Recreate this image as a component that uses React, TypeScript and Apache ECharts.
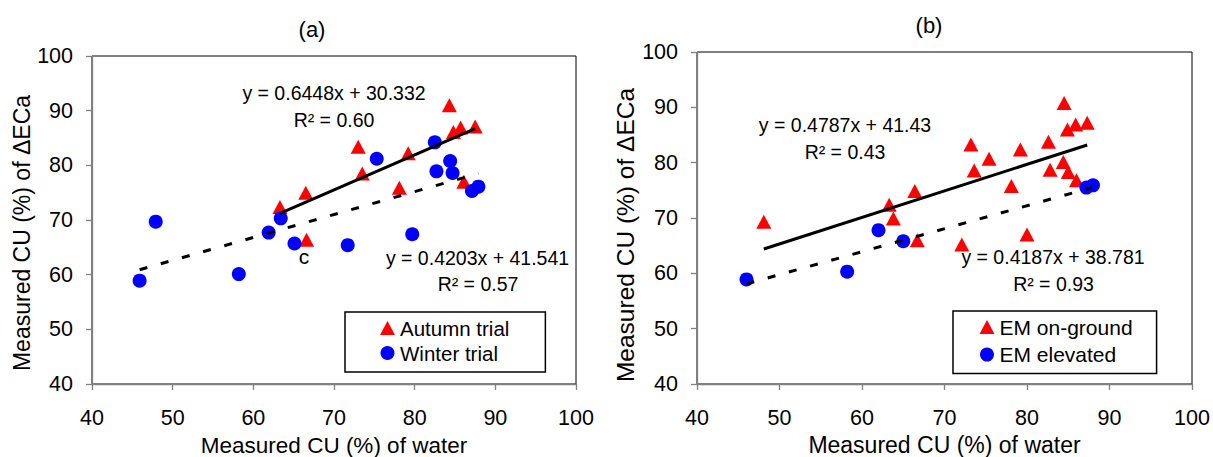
import React, { useEffect, useRef } from "react";
import * as echarts from "echarts";

const FONT = "'Liberation Sans', Arial, Helvetica, sans-serif";

// Panel (a)
const autumnTrial: number[][] = [
  [84.3, 91.0], [84.8, 86.1], [85.7, 86.9], [87.5, 87.1], [73.0, 83.4], [79.2, 82.2],
  [73.5, 78.5], [78.1, 75.9], [66.5, 75.0], [63.3, 72.4], [66.6, 66.4], [86.1, 77.0],
];
const winterTrial: number[][] = [
  [47.9, 69.7], [45.9, 58.9], [58.2, 60.1], [61.9, 67.7], [63.4, 70.3], [65.1, 65.7],
  [71.7, 65.4], [75.3, 81.2], [79.7, 67.4], [82.5, 84.2], [82.7, 78.9], [84.4, 80.8],
  [84.7, 78.6], [87.1, 75.3], [87.9, 76.1],
];
const autumnFit: number[][] = [[63.3, 71.2], [87.5, 86.7]];
const winterFit: number[][] = [[45.9, 60.9], [87.9, 78.5]];

// Panel (b)
const emOnGround: number[][] = [
  [84.5, 90.8], [84.9, 86.0], [85.9, 86.9], [87.3, 87.2], [73.2, 83.3], [79.2, 82.4],
  [75.4, 80.7], [82.6, 83.8], [73.6, 78.6], [84.4, 80.1], [82.8, 78.7], [85.0, 78.3],
  [86.0, 76.8], [78.1, 75.8], [66.4, 74.9], [63.3, 72.4], [63.8, 69.9], [48.1, 69.3],
  [66.7, 66.0], [72.1, 65.2], [80.0, 67.0],
];
const emElevated: number[][] = [
  [46.0, 58.9], [58.2, 60.3], [62.0, 67.8], [65.0, 65.8], [87.2, 75.5], [88.0, 75.9],
];
const onGroundFit: number[][] = [[48.1, 64.4], [87.3, 83.2]];
const elevatedFit: number[][] = [[46.0, 58.1], [87.9, 75.5]];

const AXIS_MIN = 40;
const AXIS_MAX = 100;
const AXIS_STEP = 10;

const xName = "Measured CU (%) of water";
const yName = "Measured CU (%) of ΔECa";

function xAxis(gridIndex: number, nameGap: number, nameSize: number) {
  return {
    type: "value",
    gridIndex,
    min: AXIS_MIN,
    max: AXIS_MAX,
    interval: AXIS_STEP,
    name: xName,
    nameLocation: "middle",
    nameGap,
    nameTextStyle: { fontSize: nameSize, fontFamily: FONT, color: "#000" },
    axisLine: { show: true, lineStyle: { color: "#808080", width: 1.3 } },
    axisTick: { show: true, inside: false, length: 6, lineStyle: { color: "#808080", width: 1.3 } },
    axisLabel: { fontSize: 21.5, fontFamily: FONT, color: "#000", margin: 23 },
    splitLine: { show: false },
  };
}

function yAxis(gridIndex: number, nameGap: number, nameSize: number, shift: number) {
  return {
    type: "value",
    gridIndex,
    min: AXIS_MIN,
    max: AXIS_MAX,
    interval: AXIS_STEP,
    name: yName,
    nameLocation: "middle",
    nameGap,
    nameRotate: 90,
    nameTextStyle: { fontSize: nameSize, fontFamily: FONT, color: "#000", padding: [0, shift, 0, 0] },
    axisLine: { show: true, lineStyle: { color: "#808080", width: 1.3 } },
    axisTick: { show: true, inside: false, length: 6, lineStyle: { color: "#808080", width: 1.3 } },
    axisLabel: { fontSize: 21.5, fontFamily: FONT, color: "#000", margin: 19 },
    splitLine: { show: false },
  };
}

function txt(text: string, x: number, y: number, size: number) {
  return {
    type: "text",
    x,
    y,
    silent: true,
    style: {
      text,
      fill: "#000",
      fontSize: size,
      fontFamily: FONT,
      align: "center",
      verticalAlign: "middle",
      textAlign: "center",
      textVerticalAlign: "middle",
    },
  };
}

function scatter(name: string, data: number[][], idx: number, tri: boolean) {
  return {
    name,
    type: "scatter",
    xAxisIndex: idx,
    yAxisIndex: idx,
    data,
    symbol: tri ? "triangle" : "circle",
    symbolSize: tri ? [15, 14] : 14,
    itemStyle: { color: tri ? "#FF0000" : "#0000FF", opacity: 1 },
    z: tri ? 2 : 3,
  };
}

function fit(data: number[][], idx: number, dashed: boolean) {
  return {
    type: "line",
    xAxisIndex: idx,
    yAxisIndex: idx,
    data,
    symbol: "none",
    silent: true,
    lineStyle: { color: "#000", width: 3, type: dashed ? [8, 14] : "solid" },
    z: 5,
  };
}

function legend(names: string[], left: number, top: number, padding: number[], gap: number, size: number, lh: number) {
  return {
    orient: "vertical",
    left,
    top,
    padding,
    itemGap: gap,
    itemWidth: 15,
    itemHeight: 14,
    borderColor: "#000",
    borderWidth: 1.5,
    backgroundColor: "#fff",
    selectedMode: false,
    data: [
      { name: names[0], icon: "triangle" },
      { name: names[1], icon: "circle" },
    ],
    textStyle: { fontSize: size, lineHeight: lh, fontFamily: FONT, color: "#000" },
  };
}

export default function App() {
  const ref = useRef<HTMLDivElement>(null);
  useEffect(() => {
    if (!ref.current) return;
    const chart = echarts.init(ref.current, null, { renderer: "svg" });
    const option: any = {
      animation: false,
      backgroundColor: "#fff",
      grid: [
        {
          left: 92, top: 56, width: 484, height: 328, show: true, borderColor: "#000", borderWidth: 1,
          backgroundColor: "transparent", containLabel: false, outerBoundsMode: "none",
        },
        {
          left: 697, top: 52, width: 495, height: 332, show: true, borderColor: "#000", borderWidth: 1,
          backgroundColor: "transparent", containLabel: false, outerBoundsMode: "none",
        },
      ],
      xAxis: [xAxis(0, 50, 22.5), xAxis(1, 49.5, 23)],
      yAxis: [yAxis(0, 59, 23, 26), yAxis(1, 57, 24.5, 34)],
      legend: [
        legend(["Autumn trial", "Winter trial"], 345, 312, [5, 36, 8, 35], 3, 20.5, 22),
        legend(["EM on-ground", "EM elevated"], 953, 311, [4.5, 24, 7.5, 26.5], 4.6, 21, 23),
      ],
      series: [
        scatter("Autumn trial", autumnTrial, 0, true),
        scatter("Winter trial", winterTrial, 0, false),
        fit(autumnFit, 0, false),
        fit(winterFit, 0, true),
        scatter("EM on-ground", emOnGround, 1, true),
        scatter("EM elevated", emElevated, 1, false),
        fit(onGroundFit, 1, false),
        fit(elevatedFit, 1, true),
      ],
      graphic: [
        txt("(a)", 312, 29, 22),
        txt("(b)", 929, 25, 22),
        txt("y = 0.6448x + 30.332", 334, 93, 19.5),
        txt("R² = 0.60", 334, 120, 19.5),
        txt("y = 0.4203x + 41.541", 477.5, 258, 19.5),
        txt("R² = 0.57", 478, 284, 19.5),
        txt("c", 304, 256, 21),
        txt("y = 0.4787x + 41.43", 845, 125, 19.5),
        txt("R² = 0.43", 845, 152, 19.5),
        txt("y = 0.4187x + 38.781", 1053, 257, 19.5),
        txt("R² = 0.93", 1053.5, 284, 19.5),
      ],
    };
    chart.setOption(option);
    return () => chart.dispose();
  }, []);
  return (
    <div
      ref={ref}
      style={{ position: "fixed", left: 0, top: 0, width: 1213, height: 457, background: "#fff" }}
    />
  );
}
